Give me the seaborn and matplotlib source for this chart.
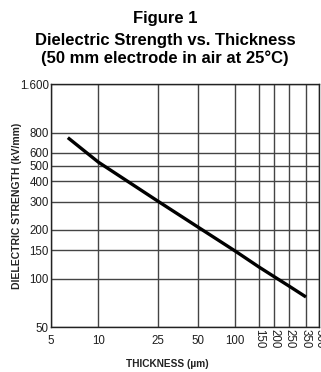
import numpy as np
import pandas as pd
import matplotlib
matplotlib.use("Agg")
import matplotlib.pyplot as plt
import seaborn as sns

# Dielectric strength curve (thickness in µm, strength in kV/mm)
thickness_um = [6.4, 10, 25, 50, 100, 150, 200, 250, 350]
strength_kv_mm = [745, 526, 302, 209, 148, 118, 103, 90, 77]

x_ticks = [5, 10, 25, 50, 100, 150, 200, 250, 350, 500]
x_tick_labels = ["5", "10", "25", "50", "100", "150", "200", "250", "350", "500"]
y_ticks = [50, 100, 150, 200, 300, 400, 500, 600, 800, 1600]
y_tick_labels = ["50", "100", "150", "200", "300", "400", "500", "600", "800", "1.600"]

sns.set_style("white")
plt.rcParams["font.family"] = ["Liberation Sans", "DejaVu Sans"]

# Chart-paper thickness axis: graduations are not evenly logarithmic,
# so map log10(thickness) piecewise onto the ruled positions.
_rule_pos = np.array([0.0, 47.3, 106.7, 146.7, 184.3, 208.0, 223.0, 238.0, 255.0, 268.3])
_rule_log = np.log10(np.array(x_ticks, dtype=float))


def _fwd(x):
    x = np.asarray(x, dtype=float)
    return np.interp(np.log10(np.clip(x, 1e-9, None)), _rule_log, _rule_pos)


def _inv(p):
    p = np.asarray(p, dtype=float)
    return 10 ** np.interp(p, _rule_pos, _rule_log)


fig = plt.figure(figsize=(3.21, 3.72), dpi=100)
ax = fig.add_axes([51 / 321, 1 - 327.3 / 372, 268.3 / 321, 243.3 / 372])

df = pd.DataFrame({"thickness": thickness_um, "strength": strength_kv_mm})
sns.lineplot(data=df, x="thickness", y="strength", ax=ax, color="black",
             linewidth=2.4, solid_capstyle="butt", solid_joinstyle="round", zorder=3)

ax.set_xscale("function", functions=(_fwd, _inv))
ax.set_yscale("log")
ax.set_xlim(5, 500)
ax.set_ylim(50, 1600)

ax.set_xticks(x_ticks)
ax.set_xticklabels(x_tick_labels)
ax.set_yticks(y_ticks)
ax.set_yticklabels(y_tick_labels)
ax.minorticks_off()

ax.tick_params(axis="both", length=0, labelsize=8.3, colors="#1e1e1e")
ax.tick_params(axis="y", pad=1.5)
ax.tick_params(axis="x", pad=1.5)
for i, tick in enumerate(ax.xaxis.get_major_ticks()):
    if i < 5:
        tick.set_pad(5.5)
    else:
        tick.label1.set_rotation(270)
        tick.label1.set_va("top")
        tick.label1.set_ha("center")

ax.grid(True, color="#444444", linewidth=1.0)
for s in ax.spines.values():
    s.set_color("#222222")
    s.set_linewidth(1.0)

ax.set_xlabel("THICKNESS (µm)", fontsize=7.3, fontweight="bold", color="#222222")
ax.xaxis.set_label_coords((167 - 51) / 268.3, (327.3 - 364) / 243.3)
ax.xaxis.label.set_va("center")
ax.set_ylabel("DIELECTRIC STRENGTH (kV/mm)", fontsize=7.5, fontweight="bold", color="#222222")
ax.yaxis.set_label_coords((17.5 - 51) / 268.3, (327.3 - 206) / 243.3)
ax.yaxis.label.set_va("center")

title_lines = ["Figure 1", "Dielectric Strength vs. Thickness", "(50 mm electrode in air at 25°C)"]
baselines = [22.7, 45.0, 63.0]
for line, yb in zip(title_lines, baselines):
    fig.text(165 / 321, 1 - yb / 372, line, ha="center", va="baseline",
             fontsize=12, fontweight="bold", color="black")

fig.savefig("out.png", dpi=100)
